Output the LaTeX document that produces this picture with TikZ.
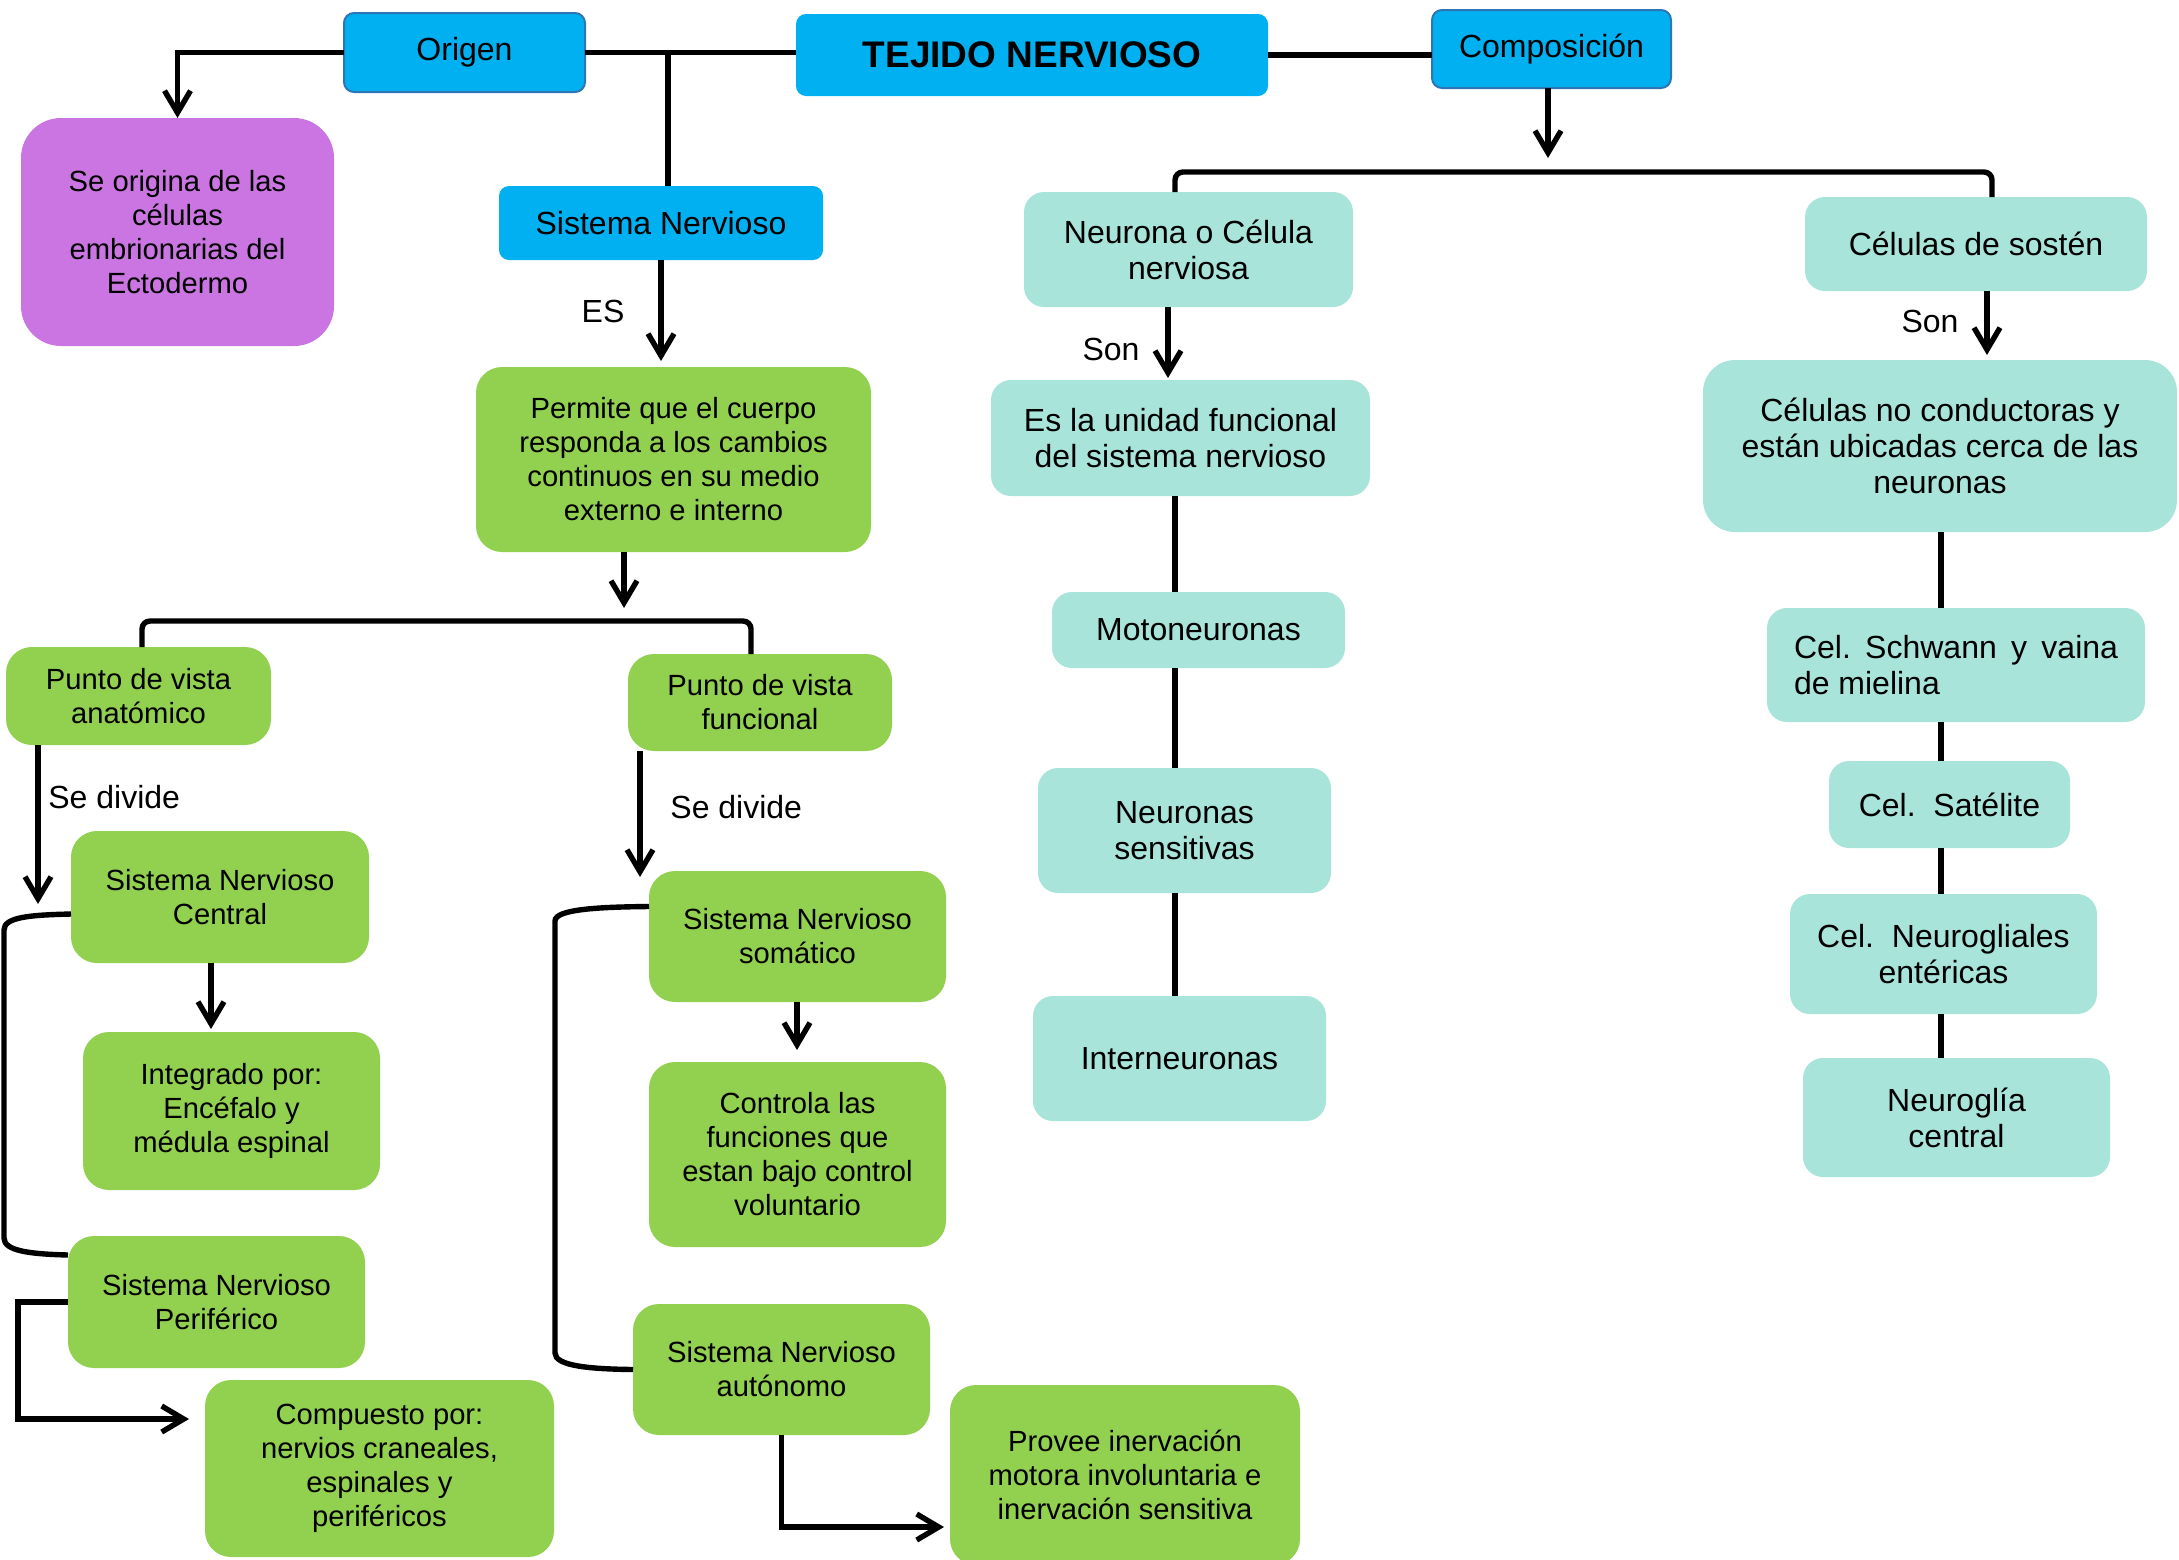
\documentclass[tikz,border=0pt]{standalone}
\usepackage{fontspec}
\setmainfont{Liberation Sans}
\usetikzlibrary{arrows.meta,calc}
\definecolor{cblue}{HTML}{00B0F0}
\definecolor{cbord}{HTML}{2E75B6}
\definecolor{cgreen}{HTML}{92D050}
\definecolor{cteal}{HTML}{A8E4D9}
\definecolor{cpurple}{HTML}{CB75E2}
\newcommand\bx[7]{\node[#6, minimum width={(#4-#2)*0.5pt}, minimum height={(#5-#3)*0.5pt}] (#1) at ({(#2+#4)/2},{(#3+#5)/2}) {#7};}
\newcommand\fA{\fontsize{14.6pt}{17pt}\selectfont}
\newcommand\fB{\fontsize{16pt}{18pt}\selectfont}
\begin{document}
\begin{tikzpicture}[x=0.5pt,y=-0.5pt,
 base/.style={inner sep=1pt, outer sep=0pt, align=center},
 bluebox/.style={base, fill=cblue, rounded corners=5pt, font=\fB},
 bluebord/.style={bluebox, draw=cbord, line width=1pt},
 gbox/.style={base, fill=cgreen, rounded corners=13pt, font=\fA},
 tbox/.style={base, fill=cteal, rounded corners=10pt, font=\fB},
 pbox/.style={base, fill=cpurple, rounded corners=20pt, font=\fA},
 lbl/.style={font=\fB, inner sep=0pt},
 ln/.style={line width=2.7pt, draw=black},
 arr/.style={ln, -{Straight Barb[length=11pt,width=13pt]}}
]
\useasboundingbox (0,0) rectangle (2179,1559);
\bx{origen}{344}{13}{585}{92}{bluebord}{Origen}
\bx{tejido}{796}{14}{1268}{96}{bluebox, font=\fontsize{18.5pt}{20pt}\selectfont\bfseries}{TEJIDO NERVIOSO}
\bx{compos}{1432}{10}{1671}{88}{bluebord}{Composición}
\bx{purple}{21}{118}{334}{346}{pbox}{Se origina de las\\células\\embrionarias del\\Ectodermo}
\bx{sn}{499}{186}{823}{260}{bluebox}{Sistema Nervioso}
\bx{permite}{476}{367}{871}{552}{gbox}{Permite que el cuerpo\\responda a los cambios\\continuos en su medio\\externo e interno}
\bx{anat}{6}{647}{271}{745}{gbox}{Punto de vista\\anatómico}
\bx{func}{628}{654}{892}{751}{gbox}{Punto de vista\\funcional}
\bx{snc}{71}{831}{369}{963}{gbox}{Sistema Nervioso\\Central}
\bx{integ}{83}{1032}{380}{1190}{gbox}{Integrado por:\\Encéfalo y\\médula espinal}
\bx{snp}{68}{1236}{365}{1368}{gbox}{Sistema Nervioso\\Periférico}
\bx{compu}{205}{1380}{554}{1557}{gbox}{Compuesto por:\\nervios craneales,\\espinales y\\periféricos}
\bx{soma}{649}{871}{946}{1002}{gbox}{Sistema Nervioso\\somático}
\bx{contr}{649}{1062}{946}{1247}{gbox}{Controla las\\funciones que\\estan bajo control\\voluntario}
\bx{auto}{633}{1304}{930}{1435}{gbox}{Sistema Nervioso\\autónomo}
\bx{provee}{950}{1385}{1300}{1565}{gbox}{Provee inervación\\motora involuntaria e\\inervación sensitiva}
\bx{neur}{1024}{192}{1353}{307}{tbox}{Neurona o Célula\\nerviosa}
\bx{unid}{991}{380}{1370}{496}{tbox}{Es la unidad funcional\\del sistema nervioso}
\bx{moto}{1052}{592}{1345}{668}{tbox}{Motoneuronas}
\bx{sens}{1038}{768}{1331}{893}{tbox}{Neuronas\\sensitivas}
\bx{inter}{1033}{996}{1326}{1121}{tbox}{Interneuronas}
\bx{sosten}{1805}{197}{2147}{291}{tbox}{Células de sostén}
\bx{nocond}{1703}{360}{2177}{532}{tbox, rounded corners=16pt}{Células no conductoras y\\están ubicadas cerca de las\\neuronas}
\bx{schw}{1767}{608}{2145}{722}{tbox, align=left}{\frenchspacing\makebox[162pt][s]{Cel. Schwann y vaina}\\de mielina}
\bx{sat}{1829}{761}{2070}{848}{tbox}{Cel.\ \ Satélite}
\bx{enter}{1790}{894}{2097}{1014}{tbox}{Cel.\ \ Neurogliales\\entéricas}
\bx{central}{1803}{1058}{2110}{1177}{tbox}{Neuroglía\\central}
% top connectors
\draw[arr] (origen.west) -| (purple.north);
\draw[ln] (origen.east) -- (origen.east -| tejido.west);
\coordinate (b1) at (668,53);
\draw[ln] (b1) -- (b1 |- sn.north);
\draw[ln] (tejido.east) -- (tejido.east -| compos.west);
\coordinate (ctip) at (1548,158);
\draw[arr] (compos.south -| ctip) -- (ctip);
\coordinate (bl) at (1175,172);
\coordinate (br) at (1992,172);
\draw[ln, rounded corners=4pt] (bl |- neur.north) -- (bl) -- (br) -- (br |- sosten.north);
% neuron column
\coordinate (nA) at (1168,0);
\draw[arr] (neur.south -| nA) -- ($(unid.north -| nA)+(0,-2)$);
\node[lbl] (son1) at (1111,349) {Son};
\coordinate (nx) at (1175,0);
\draw[ln] (unid.south -| nx) -- (moto.north -| nx);
\draw[ln] (moto.south -| nx) -- (sens.north -| nx);
\draw[ln] (sens.south -| nx) -- (inter.north -| nx);
% support cells column
\coordinate (sA) at (1987,0);
\draw[arr] (sosten.south -| sA) -- ($(nocond.north -| sA)+(0,-5)$);
\node[lbl] (son2) at (1930,321) {Son};
\coordinate (rx) at (1941,0);
\draw[ln] (nocond.south -| rx) -- (schw.north -| rx);
\draw[ln] (schw.south -| rx) -- (sat.north -| rx);
\draw[ln] (sat.south -| rx) -- (enter.north -| rx);
\draw[ln] (enter.south -| rx) -- (central.north -| rx);
% nervous system
\draw[arr] (sn.south) -- ($(sn.south |- permite.north)+(0,-6)$);
\node[lbl] (es) at (603,311) {ES};
\coordinate (ptip) at (624,608);
\draw[arr] (permite.south -| ptip) -- (ptip);
\coordinate (ll) at (142,621);
\coordinate (lr) at (751,621);
\draw[ln, rounded corners=4pt] (ll |- anat.north) -- (ll) -- (lr) -- (lr |- func.north);
\coordinate (atip) at (38,904);
\draw[arr] (anat.south -| atip) -- (atip);
\node[lbl, anchor=west] (sd1) at (48,797) {Se divide};
\coordinate (ftip) at (640,877);
\draw[arr] (func.south -| ftip) -- (ftip);
\node[lbl, anchor=west] (sd2) at (670,807) {Se divide};
\coordinate (stip) at (211,1029);
\draw[arr] (snc.south -| stip) -- (stip);
\draw[ln] ($(snc.west)+(0,17)$) .. controls (30,915) and (4,917) .. (4,930) -- (4,1238) .. controls (4,1251) and (30,1254) .. ($(snp.west)+(0,-47)$);
\coordinate (q1) at (18,1419);
\draw[arr] (snp.west) -| (q1) -- ($(q1 -| compu.west)+(-16,0)$);
\coordinate (ttip) at (797,1050);
\draw[arr] (soma.south -| ttip) -- (ttip);
\draw[ln] ($(soma.west)+(0,-30)$) .. controls (600,907) and (555,909) .. (555,921) -- (555,1353) .. controls (555,1366) and (590,1369) .. (auto.west);
\coordinate (q2) at (781,1527);
\draw[arr] (auto.south) -- (auto.south |- q2) -- ($(provee.west |- q2)+(-6,0)$);
\end{tikzpicture}
\end{document}
